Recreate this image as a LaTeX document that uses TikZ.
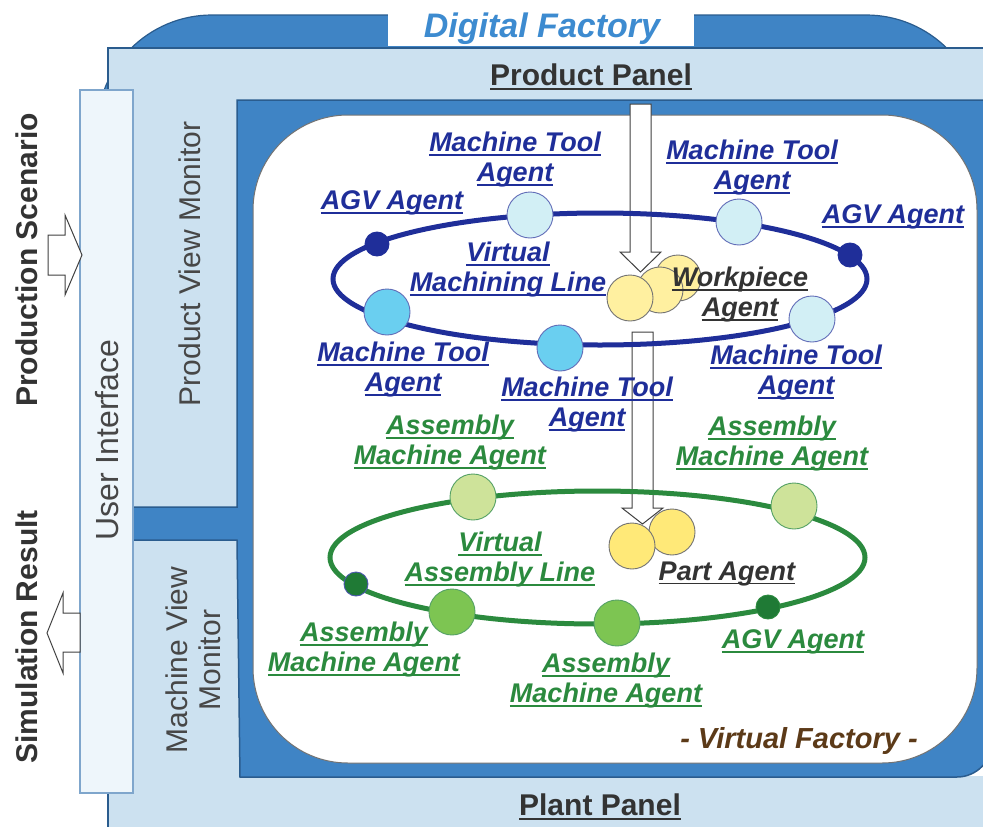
\documentclass[tikz,border=0pt]{standalone}
\usepackage{fontspec}
\setmainfont{Liberation Sans}
\definecolor{frameblue}{HTML}{3F84C5}
\definecolor{frameline}{HTML}{2A5C8E}
\definecolor{panelblue}{HTML}{CCE1F0}
\definecolor{uifill}{HTML}{EEF6FB}
\definecolor{uiline}{HTML}{7FA6CC}
\definecolor{titleblue}{HTML}{3D8BD0}
\definecolor{navy}{HTML}{1F2E99}
\definecolor{linegreen}{HTML}{2B8A3E}
\definecolor{txtgray}{HTML}{333333}
\definecolor{brownish}{HTML}{5C3A18}
\definecolor{cyanlight}{HTML}{D2EFF5}
\definecolor{cyanmid}{HTML}{6ACFF0}
\definecolor{greenlight}{HTML}{CEE39A}
\definecolor{greenmid}{HTML}{7DC552}
\definecolor{greendark}{HTML}{1F7A35}
\definecolor{wpyellow}{HTML}{FFF0A0}
\definecolor{ptyellow}{HTML}{FFE978}
% underline at a fixed depth below the baseline
\newcommand\ulx[1]{{\setbox0=\hbox{#1}\rlap{\rule[-4pt]{\wd0}{1.8pt}}\box0}}
\tikzset{
  lab/.style={font=\fontsize{27}{30}\selectfont\bfseries\itshape, align=center, inner sep=0pt},
  sidelab/.style={font=\fontsize{30}{33}\selectfont, align=center, inner sep=0pt, text=txtgray!90, rotate=90},
  agent/.style={circle, minimum size=46pt, inner sep=0pt, line width=0.9pt},
  agv/.style={circle, minimum size=24pt, inner sep=0pt, line width=0.9pt},
  blockarrow/.style={draw=black!75, fill=white, line width=1pt, line join=miter},
}
\begin{document}
\begin{tikzpicture}[x=1pt,y=-1pt]
\useasboundingbox (0,0) rectangle (983,827);

% digital factory backdrop
\draw[frameline, fill=frameblue, line width=1.2pt, rounded corners=115pt] (97,15) rectangle (981,700);
\fill[white] (388,-2) rectangle (694,46);
\node[font=\fontsize{34}{36}\selectfont\bfseries\itshape, text=titleblue, inner sep=0pt] (title) at (542,29) {Digital Factory};

% light panel: product panel, monitors, plant panel
\draw[frameline, fill=panelblue, line width=1.5pt] (108,48) rectangle (1000,840);
\fill[white] (950,735) rectangle (995,776);

% inner dark frame with the strip reaching the user interface
\draw[frameline, fill=frameblue, line width=1.5pt]
  (237,100) -- (992,100) -- (992,742)
  .. controls (992,761.3) and (976.3,777) .. (957,777)
  -- (240,777) -- (237,540) -- (133,540) -- (133,507) -- (237,507) -- cycle;

% virtual factory area
\draw[black!55, fill=white, line width=1pt, rounded corners=95pt] (253,115) rectangle (977,763);

% user interface column
\draw[uiline, fill=uifill, line width=1.2pt] (80,90) rectangle (133,793);
\node[sidelab, font=\fontsize{32}{34}\selectfont] (ui) at (107,440) {User Interface};
\node[sidelab] (pvm) at (190,264) {Product View Monitor};
\node[sidelab] (mvm) at (193,660) {Machine View\\Monitor};

% external inputs and outputs
\node[sidelab, font=\fontsize{30}{33}\selectfont\bfseries, text=txtgray] (scen) at (27,260) {Production Scenario};
\node[sidelab, font=\fontsize{30}{33}\selectfont\bfseries, text=txtgray] (simres) at (27,637) {Simulation Result};
\draw[blockarrow] (48,235) -- (65,235) -- (65,215) -- (82,255) -- (65,295) -- (65,275) -- (48,275) -- cycle;
\draw[blockarrow] (80,613) -- (63,613) -- (63,593) -- (47,633) -- (63,673) -- (63,652) -- (80,652) -- cycle;

% panel titles
\node[font=\fontsize{30}{33}\selectfont\bfseries, text=txtgray, inner sep=0pt] (pp) at (591,77) {\ulx{Product Panel}};
\node[font=\fontsize{30}{33}\selectfont\bfseries, text=txtgray, inner sep=0pt] (plp) at (600,807) {\ulx{Plant Panel}};

% flow arrows from product panel down through the lines
\draw[blockarrow] (630,104) -- (651,104) -- (651,252) -- (661,252) -- (640.5,272) -- (620,252) -- (630,252) -- cycle;
\draw[blockarrow] (632,332) -- (653,332) -- (653,508) -- (663,508) -- (642.5,524) -- (622,508) -- (632,508) -- cycle;

% virtual machining line
\draw[navy, line width=5pt] (600,279) ellipse [x radius=267, y radius=66];
\node[agent, draw=navy!70, fill=cyanlight] (mt1) at (530,215) {};
\node[agent, draw=navy!70, fill=cyanlight] (mt2) at (739,222) {};
\node[agent, draw=navy!70, fill=cyanlight] (mt5) at (812,319) {};
\node[agent, draw=navy!70, fill=cyanmid] (mt3) at (387,312) {};
\node[agent, draw=navy!70, fill=cyanmid] (mt4) at (560,348) {};
\node[agv, draw=navy, fill=navy] (agv1) at (377,244) {};
\node[agv, draw=navy, fill=navy] (agv2) at (850,255) {};
\node[agent, draw=black!55, fill=wpyellow] (wp3) at (678,278) {};
\node[agent, draw=black!55, fill=wpyellow] (wp2) at (660,290) {};
\node[agent, draw=black!55, fill=wpyellow] (wp1) at (630,298) {};

% virtual assembly line
\draw[linegreen, line width=5pt] (597.5,557.5) ellipse [x radius=267.5, y radius=66.5];
\node[agent, draw=linegreen!80, fill=greenlight] (am1) at (473,497) {};
\node[agent, draw=linegreen!80, fill=greenlight] (am2) at (794,506) {};
\node[agent, draw=linegreen!80, fill=greenmid] (am3) at (452,612) {};
\node[agent, draw=linegreen!80, fill=greenmid] (am4) at (617,623) {};
\node[agv, draw=navy!80, fill=greendark] (agv3) at (356,584) {};
\node[agv, draw=linegreen, fill=greendark] (agv4) at (768,607) {};
\node[agent, draw=black!55, fill=ptyellow] (pa2) at (672,532) {};
\node[agent, draw=black!55, fill=ptyellow] (pa1) at (632,546) {};

% machining line labels
\node[lab, text=navy] (lmt1) at (515,160) {\ulx{Machine Tool}\\\ulx{Agent}};
\node[lab, text=navy] (lmt2) at (752,168) {\ulx{Machine Tool}\\\ulx{Agent}};
\node[lab, text=navy] (lagv1) at (392,203) {\ulx{AGV Agent}};
\node[lab, text=navy] (lagv2) at (893,217) {\ulx{AGV Agent}};
\node[lab, text=navy] (lvml) at (508,270) {\ulx{Virtual}\\\ulx{Machining Line}};
\node[lab, text=txtgray] (lwp) at (740,295) {\ulx{Workpiece}\\\ulx{Agent}};
\node[lab, text=navy] (lmt3) at (403,370) {\ulx{Machine Tool}\\\ulx{Agent}};
\node[lab, text=navy] (lmt4) at (587,405) {\ulx{Machine Tool}\\\ulx{Agent}};
\node[lab, text=navy] (lmt5) at (796,373) {\ulx{Machine Tool}\\\ulx{Agent}};

% assembly line labels
\node[lab, text=linegreen] (lam1) at (450,443) {\ulx{Assembly}\\\ulx{Machine Agent}};
\node[lab, text=linegreen] (lam2) at (772,444) {\ulx{Assembly}\\\ulx{Machine Agent}};
\node[lab, text=linegreen] (lval) at (500,560) {\ulx{Virtual}\\\ulx{Assembly Line}};
\node[lab, text=linegreen] (lam3) at (364,650) {\ulx{Assembly}\\\ulx{Machine Agent}};
\node[lab, text=linegreen] (lam4) at (606,681) {\ulx{Assembly}\\\ulx{Machine Agent}};
\node[lab, text=linegreen] (lagv4) at (793,642) {\ulx{AGV Agent}};
\node[lab, text=txtgray] (lpa) at (727,574) {\ulx{Part Agent}};

% virtual factory caption
\node[font=\fontsize{29}{32}\selectfont\bfseries\itshape, text=brownish, inner sep=0pt] (vf) at (799,741) {- Virtual Factory -};
\end{tikzpicture}
\end{document}
